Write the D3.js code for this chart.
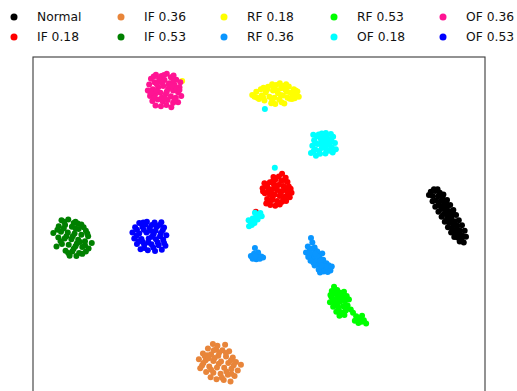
<!DOCTYPE html>
<html><head><meta charset="utf-8">
<script src="https://cdn.jsdelivr.net/npm/d3@7"></script>
<style>body{margin:0;background:#fff}svg{display:block}</style>
</head><body>
<script>
// Embedded 2-D feature projection, one point list per fault class
const labels = ["Normal","IF 0.18","IF 0.36","IF 0.53","RF 0.18","RF 0.36","RF 0.53","OF 0.18","OF 0.36","OF 0.53"];
const colors = ["#000000","#ff0000","#e8853a","#008000","#ffff00","#0a96ff","#00ff00","#00ffff","#ff1493","#0000ff"];

const normal = [[38.0,10.2],[39.0,10.4],[40.0,10.0],[38.4,9.3],[39.6,9.2],[40.6,9.0],[39.1,8.3],[40.2,8.2],[41.0,8.0],[39.7,7.3],[40.8,7.2],[41.6,6.9],[40.3,6.4],[41.3,6.1],[42.2,5.9],[40.9,5.3],[41.9,5.1],[42.6,4.8],[41.6,4.3],[42.5,4.1],[43.3,3.7],[42.1,3.3],[43.1,3.0],[43.9,2.7],[42.7,2.2],[43.7,1.9],[44.5,1.6],[43.2,1.2],[44.2,0.8],[45.0,0.5],[43.9,0.1],[44.8,-0.3],[44.4,-0.8],[38.7,10.8],[41.4,7.6],[42.9,5.4],
  [39.5,10.8],[40.8,9.6],[41.6,8.4],[42.3,7.3],[43.0,6.2],[43.6,5.1],[44.2,3.9],[44.9,2.8],[45.5,1.6],[45.8,0.3],[45.3,-1.0],[37.6,9.5],[38.4,8.1],[39.0,6.9],[39.7,5.8],[40.4,4.7],[41.1,3.6],[41.8,2.4],[42.5,1.2],[43.2,0.2]];
const if018 = [[5.1,14.2],[4.4,13.6],[5.9,13.3],[3.6,12.9],[4.9,12.6],[6.3,12.4],[1.2,12.1],[2.4,12.3],[3.3,11.8],[4.3,11.7],[5.4,11.5],[6.6,11.4],[0.8,11.0],[1.9,11.2],[2.9,10.8],[4.0,10.6],[5.1,10.4],[6.2,10.3],[7.2,10.0],[1.3,9.9],[2.4,9.6],[3.5,9.6],[4.6,9.3],[5.7,9.1],[6.8,9.0],[1.8,8.6],[2.9,8.4],[4.0,8.2],[5.1,8.0],[6.0,8.2],[2.5,7.3],[3.6,7.1],[1.6,7.6],[4.6,7.4],[3.1,12.6],[2.1,10.3],[-0.7,5.8],
  [3.2,13.5],[5.6,12.8],[1.7,11.6],[3.8,11.0],[5.9,10.9],[2.6,10.1],[4.8,10.0],[6.5,9.6],[3.0,9.0],[5.4,8.6],[2.2,8.0],[4.2,7.8],[7.0,10.9],[0.9,10.3]];
const if036 = [[-10.2,-23.4],[-7.5,-23.6],[-11.3,-24.4],[-9.5,-24.6],[-8.1,-24.8],[-6.6,-25.0],[-12.4,-25.5],[-10.6,-25.7],[-9.0,-26.0],[-7.3,-26.2],[-5.8,-26.4],[-13.3,-26.8],[-11.8,-27.0],[-10.1,-27.2],[-8.4,-27.3],[-6.8,-27.6],[-5.1,-27.4],[-4.0,-28.0],[-12.6,-28.2],[-11.0,-28.4],[-9.3,-28.6],[-7.7,-28.7],[-6.1,-28.9],[-4.7,-29.3],[-11.7,-29.6],[-10.1,-29.8],[-8.5,-30.0],[-6.9,-30.2],[-5.4,-30.5],[-9.4,-31.2],[-7.8,-31.4],[-6.3,-31.7],[-10.7,-30.8],[-13.0,-28.8],[-8.8,-25.3],[-12.0,-26.1],
  [-9.2,-23.8],[-10.0,-24.8],[-7.3,-25.4],[-11.5,-25.9],[-9.8,-26.5],[-6.2,-27.0],[-12.3,-27.6],[-8.9,-27.8],[-5.6,-28.1],[-10.6,-29.1],[-7.2,-29.5],[-8.2,-30.9],[-11.1,-26.6],[-6.1,-30.0]];
const if053 = [[-45.5,1.1],[-43.7,3.9],[-42.2,4.1],[-40.6,3.6],[-39.3,3.0],[-44.3,2.6],[-42.9,2.9],[-41.4,2.5],[-39.9,2.0],[-38.3,1.6],[-43.8,1.4],[-42.3,1.2],[-40.8,1.0],[-39.3,0.7],[-37.8,0.4],[-44.4,0.1],[-43.0,-0.1],[-41.5,-0.3],[-40.0,-0.4],[-38.5,-0.7],[-37.0,-1.1],[-43.6,-1.3],[-42.1,-1.5],[-40.6,-1.8],[-39.1,-2.0],[-37.7,-2.3],[-42.8,-2.8],[-41.3,-3.0],[-39.8,-3.3],[-38.3,-3.0],[-41.9,-3.9],[-40.4,-4.0],[-44.8,-1.9],[-41.0,3.3],[-38.8,2.4],[-42.6,0.4],
  [-43.1,3.6],[-40.1,3.2],[-43.2,2.1],[-40.6,2.1],[-38.0,1.0],[-41.2,0.4],[-39.6,-0.9],[-43.9,-0.7],[-41.0,-2.4],[-38.5,-1.6],[-42.2,-3.3],[-39.1,-3.5],[-44.6,1.8],[-40.3,-1.2]];
const rf018 = [[-1.5,31.6],[-0.6,32.3],[-0.4,31.0],[0.4,32.9],[0.6,31.5],[1.2,30.4],[1.5,32.2],[2.0,33.4],[2.3,31.2],[2.7,29.8],[3.1,32.6],[3.4,31.0],[3.8,33.8],[4.2,32.0],[4.5,30.6],[4.9,33.1],[5.3,31.5],[5.6,29.7],[5.9,32.7],[6.3,31.0],[6.6,33.5],[7.0,32.1],[7.3,30.7],[7.7,32.9],[8.0,31.6],[8.5,32.4],[8.8,31.2],[1.0,33.2],[2.9,34.0],[4.6,34.2],[6.0,34.0],[3.6,29.6],[0.0,30.7],[5.0,30.0],[7.4,31.8],[-17.0,34.7],
  [1.8,32.8],[3.9,32.6],[6.2,32.3],[8.1,32.6],[0.9,31.1],[2.9,30.5],[4.8,31.6],[6.8,30.8],[-1.0,31.2],[5.4,33.6],[3.3,33.3],[7.9,30.9]];
const rf036 = [[11.5,0.0],[11.8,-1.0],[10.8,-1.9],[12.3,-2.1],[11.2,-2.8],[12.6,-2.9],[10.4,-3.2],[11.7,-3.6],[13.0,-3.7],[12.1,-4.3],[13.4,-4.4],[10.9,-4.2],[14.2,-4.8],[12.6,-5.1],[13.8,-5.4],[11.4,-5.0],[14.9,-5.6],[13.1,-5.9],[14.4,-6.2],[15.4,-6.0],[12.3,-6.1],[13.7,-6.7],[15.0,-6.9],[14.3,-7.4],[15.8,-7.2],[13.2,-7.0],[16.1,-6.3],[12.9,-3.0],[14.0,-3.4],[11.0,-3.9],
  [11.6,-2.4],[12.9,-4.0],[12.0,-5.4],[13.6,-5.0],[14.8,-6.3],[13.9,-6.1],[15.2,-7.5],[11.3,-3.3],[12.4,-3.4],[13.5,-7.6],
  [-0.9,-2.2],[-1.8,-4.0],[-1.1,-3.5],[-0.3,-3.7],[0.5,-4.1],[-1.4,-4.6],[-0.6,-4.7],[0.2,-4.6],[0.9,-4.3],[-0.2,-3.2],[-1.5,-4.2],[0.0,-4.2],[-0.8,-4.0]];
const rf053 = [[16.6,-10.8],[16.1,-11.7],[17.3,-11.5],[15.8,-12.6],[16.9,-12.4],[18.0,-12.1],[18.8,-11.9],[16.3,-13.5],[17.4,-13.3],[18.5,-13.0],[19.4,-12.8],[15.7,-14.2],[16.8,-14.4],[17.9,-14.1],[19.0,-14.0],[19.9,-13.6],[16.4,-15.2],[17.5,-15.3],[18.6,-15.1],[19.6,-14.9],[17.1,-16.3],[18.2,-16.4],[19.2,-16.0],[17.8,-17.2],[18.9,-17.0],[20.3,-15.8],
  [16.9,-11.8],[17.8,-12.8],[16.4,-14.0],[18.3,-13.6],[17.3,-14.8],[19.3,-15.5],[17.6,-16.0],[18.5,-16.8],[16.0,-13.0],[19.5,-13.4],
  [20.8,-16.5],[21.5,-17.3],[22.3,-17.9],[23.2,-18.2],[22.0,-18.8],[23.7,-18.9],[21.2,-18.3],[22.8,-17.2],[21.9,-17.6],[22.7,-18.5]];
const of018 = [[11.5,18.8],[11.8,20.4],[12.2,21.6],[12.4,19.6],[12.8,22.5],[13.0,20.8],[13.3,19.2],[13.6,22.0],[13.9,23.1],[14.1,20.1],[14.4,21.4],[14.7,18.7],[15.0,22.6],[15.2,20.6],[15.5,19.3],[15.8,21.8],[16.1,20.0],[16.4,22.4],[16.8,21.0],[17.0,19.6],[12.0,22.8],[13.5,18.6],[14.8,23.2],[16.3,18.9],[12.6,18.2],[15.9,23.0],[13.8,21.0],[15.3,21.6],
  [12.5,21.0],[13.2,22.9],[14.3,22.3],[15.6,20.9],[16.0,21.5],[14.9,19.6],[13.9,19.9],[12.1,19.2],[16.6,19.5],[14.5,20.8],
  [1.3,28.5],[3.5,15.5],
  [-2.2,2.6],[-1.8,3.4],[-2.3,3.9],[-1.4,4.3],[-1.0,3.3],[-0.6,4.9],[-0.2,5.2],[0.3,5.5],[0.6,4.8],[-0.9,5.6],[-1.6,2.9],[-0.3,4.1]];
const of036 = [[-23.9,35.2],[-22.8,36.1],[-21.6,35.8],[-20.4,36.3],[-19.5,35.5],[-18.3,35.0],[-17.4,34.4],[-24.3,33.9],[-23.1,34.4],[-22.0,34.7],[-20.9,34.9],[-19.8,34.2],[-18.7,33.8],[-17.6,33.3],[-24.6,32.6],[-23.5,32.9],[-22.3,33.3],[-21.2,33.6],[-20.1,33.0],[-19.0,32.6],[-17.9,32.2],[-17.2,31.4],[-24.1,31.4],[-23.0,31.7],[-21.8,32.1],[-20.6,31.8],[-19.5,31.3],[-18.4,31.0],[-23.6,30.3],[-22.4,30.6],[-21.3,30.2],[-20.2,30.5],[-19.0,29.9],[-17.9,30.0],[-22.9,29.3],[-21.7,29.1],[-20.5,29.4],[-19.4,28.9],[-22.1,35.3],[-20.0,34.0],[-21.5,31.0],[-18.9,34.8],
  [-23.3,35.7],[-21.0,36.0],[-18.9,35.9],[-24.0,32.0],[-22.7,32.5],[-20.4,32.4],[-18.3,32.9],[-23.2,30.9],[-20.9,30.9],[-18.7,30.6],[-21.4,34.3],[-19.3,33.7],[-22.6,34.0],[-17.6,32.7]];
const of053 = [[-26.5,3.3],[-24.8,3.6],[-23.1,3.4],[-21.6,3.5],[-27.4,2.4],[-25.8,2.5],[-24.2,2.2],[-22.6,2.5],[-21.0,2.3],[-28.0,1.2],[-26.5,1.0],[-24.9,1.2],[-23.3,0.9],[-21.7,1.1],[-20.5,0.6],[-27.6,-0.1],[-26.0,-0.2],[-24.4,-0.1],[-22.8,-0.3],[-21.2,-0.4],[-27.0,-1.3],[-25.4,-1.5],[-23.8,-1.4],[-22.2,-1.6],[-20.7,-1.7],[-26.2,-2.5],[-24.6,-2.7],[-23.0,-2.9],[-21.5,-2.6],[-25.1,3.0],[-22.9,1.6],[-25.7,-0.9],
  [-25.6,3.4],[-23.7,2.9],[-22.0,2.9],[-27.0,1.8],[-25.5,1.8],[-24.0,1.6],[-21.3,1.7],[-27.1,0.5],[-23.7,0.3],[-21.9,0.4],[-26.6,-0.7],[-24.5,-1.0],[-22.4,-1.0],[-25.4,-2.2],[-23.4,-2.1],[-21.0,-1.1]];

const series = [normal, if018, if036, if053, rf018, rf036, rf053, of018, of036, of053];

const W = 517, H = 391;
const svg = d3.select("body").append("svg").attr("width", W).attr("height", H);

const x = d3.scaleLinear().domain([-50, 50]).range([33, 485]);
const y = d3.scaleLinear().domain([-40, 40]).range([419, 57]);

// frame
svg.append("rect")
  .attr("x", x(-50)).attr("y", y(40))
  .attr("width", x(50) - x(-50)).attr("height", y(-40) - y(40))
  .attr("fill", "none").attr("stroke", "#3a3a3a").attr("stroke-width", 1.1);

// scatter, one layer per class in legend order
series.forEach((pts, i) => {
  svg.append("g").selectAll("circle").data(pts).join("circle")
    .attr("cx", d => x(d[0])).attr("cy", d => y(d[1]))
    .attr("r", 3.0).attr("fill", colors[i]);
});

// legend: 5 columns, filled column by column
const colX = [14, 121, 224, 334, 443];
const rowY = [17, 37];
const leg = svg.append("g").attr("font-family", "DejaVu Sans, sans-serif").attr("font-size", 12.3);
labels.forEach((lab, i) => {
  const cx = colX[Math.floor(i / 2)], cy = rowY[i % 2];
  leg.append("circle").attr("cx", cx).attr("cy", cy).attr("r", 3.5).attr("fill", colors[i]);
  leg.append("text").attr("x", cx + 23).attr("y", cy).attr("dy", "0.36em").attr("fill", "#111").text(lab);
});
</script>
</body></html>
